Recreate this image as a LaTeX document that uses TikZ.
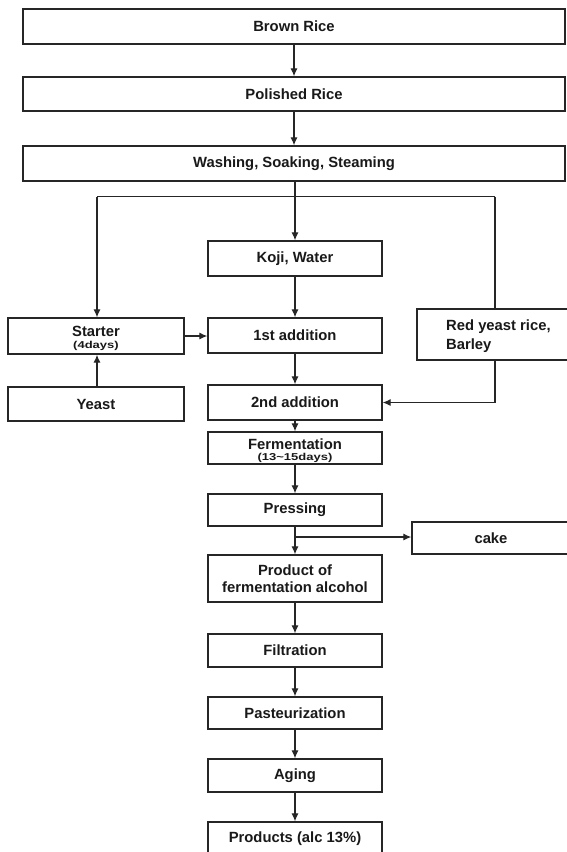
\documentclass[tikz,border=0pt]{standalone}
\usepackage{fontspec}
\setmainfont{Liberation Sans}
\newfontfamily\stretchfont[FakeStretch=1.3]{Liberation Sans}
\usetikzlibrary{arrows.meta}
\tikzset{
  box/.style={draw=black!85, line width=1.3pt, fill=white, inner sep=0pt, minimum width=#1},
  box/.default=174pt,
  lbl/.style={font=\fontsize{14.8}{17}\selectfont\bfseries, inner sep=0pt, text=black!90},
  small/.style={font=\stretchfont\fontsize{10}{10}\selectfont\bfseries, inner sep=0pt, text=black!90},
  conn/.style={draw=black!85, line width=1.2pt},
  arr/.style={conn, -{Latex[length=8pt,width=7pt]}}
}
\begin{document}
\begin{tikzpicture}[x=1pt,y=-1pt]
\useasboundingbox (0,0) rectangle (567,852);
\clip (0,0) rectangle (567,852);
\fill[white] (0,0) rectangle (567,852);
% wide boxes
\node[box=542pt, minimum height=35pt] (brown) at (294,26.5) {};
\node[lbl] (browntxt) at (brown.center) {Brown Rice};
\node[box=542pt, minimum height=34pt] (polished) at (294,94) {};
\node[lbl] (polishedtxt) at (polished.center) {Polished Rice};
\node[box=542pt, minimum height=35pt] (wash) at (294,163.5) {};
\node[lbl] (washtxt) at (wash.center) {Washing, Soaking, Steaming};
% central column
\node[box, minimum height=35pt] (koji) at (295,258.5) {};
\node[lbl] (kojitxt) at (koji.center) {Koji, Water};
\node[box, minimum height=35pt] (first) at (295,335.5) {};
\node[lbl] (firsttxt) at (first.center) {1st addition};
\node[box, minimum height=35pt] (second) at (295,402.5) {};
\node[lbl] (secondtxt) at (second.center) {2nd addition};
\node[box, minimum height=32pt] (ferm) at (295,448) {};
\node[lbl, anchor=base] (fermtxt) at (295,449) {Fermentation};
\node[small, anchor=base] (fermsub) at (295,460.3) {(13\textasciitilde15days)};
\node[box, minimum height=32pt] (press) at (295,510) {};
\node[lbl] (presstxt) at (press.center) {Pressing};
\node[box, minimum height=47pt] (product) at (295,578.5) {};
\node[lbl, align=center] (producttxt) at (product.center) {Product of\\fermentation alcohol};
\node[box, minimum height=33pt] (filt) at (295,650.5) {};
\node[lbl] (filttxt) at (filt.center) {Filtration};
\node[box, minimum height=32pt] (past) at (295,713) {};
\node[lbl] (pasttxt) at (past.center) {Pasteurization};
\node[box, minimum height=33pt] (aging) at (295,775.5) {};
\node[lbl] (agingtxt) at (aging.center) {Aging};
\node[box, minimum height=34pt] (prods) at (295,839) {};
\node[lbl] (prodstxt) at (295,838.5) {Products (alc 13\%)};
% left column
\node[box=176pt, minimum height=36pt] (starter) at (96,336) {};
\node[lbl, anchor=base] (startertxt) at (96,336.8) {Starter};
\node[small, anchor=base] (startersub) at (96,348.5) {(4days)};
\node[box=176pt, minimum height=34pt] (yeast) at (96,404) {};
\node[lbl] (yeasttxt) at (yeast.center) {Yeast};
% right column
\node[box=154pt, minimum height=51pt] (red) at (494,334.5) {};
\node[lbl, align=left, anchor=west, font=\fontsize{14.8}{19}\selectfont\bfseries] (redtxt) at (446,336.5) {Red yeast rice,\\Barley};
\node[box=158pt, minimum height=32pt] (cake) at (491,538) {};
\node[lbl] (caketxt) at (cake.center) {cake};
% junction coordinates
\coordinate (jl) at (97,196.5);
\coordinate (jr) at (495,196.5);
\coordinate (pc) at (295,537);
% connectors
\draw[arr] (brown) -- (polished);
\draw[arr] (polished) -- (wash);
\draw[arr] (wash.south -| koji.north) -- (koji.north);
\draw[conn] (jl) -- (jr);
\draw[arr] (jl) -- (jl |- starter.north);
\draw[conn] (jr) -- (jr |- red.north);
\draw[arr] (koji) -- (first);
\draw[arr] (starter.east) -- (starter.east -| first.west);
\draw[arr] (yeast.north -| jl) -- (starter.south -| jl);
\draw[arr] (first) -- (second);
\draw[arr] (red.south -| jr) |- (second.east);
\draw[arr] (second) -- (ferm);
\draw[arr] (ferm) -- (press);
\draw[arr] (press) -- (product);
\draw[arr] (pc) -- (pc -| cake.west);
\draw[arr] (product) -- (filt);
\draw[arr] (filt) -- (past);
\draw[arr] (past) -- (aging);
\draw[arr] (aging) -- (prods);
\end{tikzpicture}
\end{document}
